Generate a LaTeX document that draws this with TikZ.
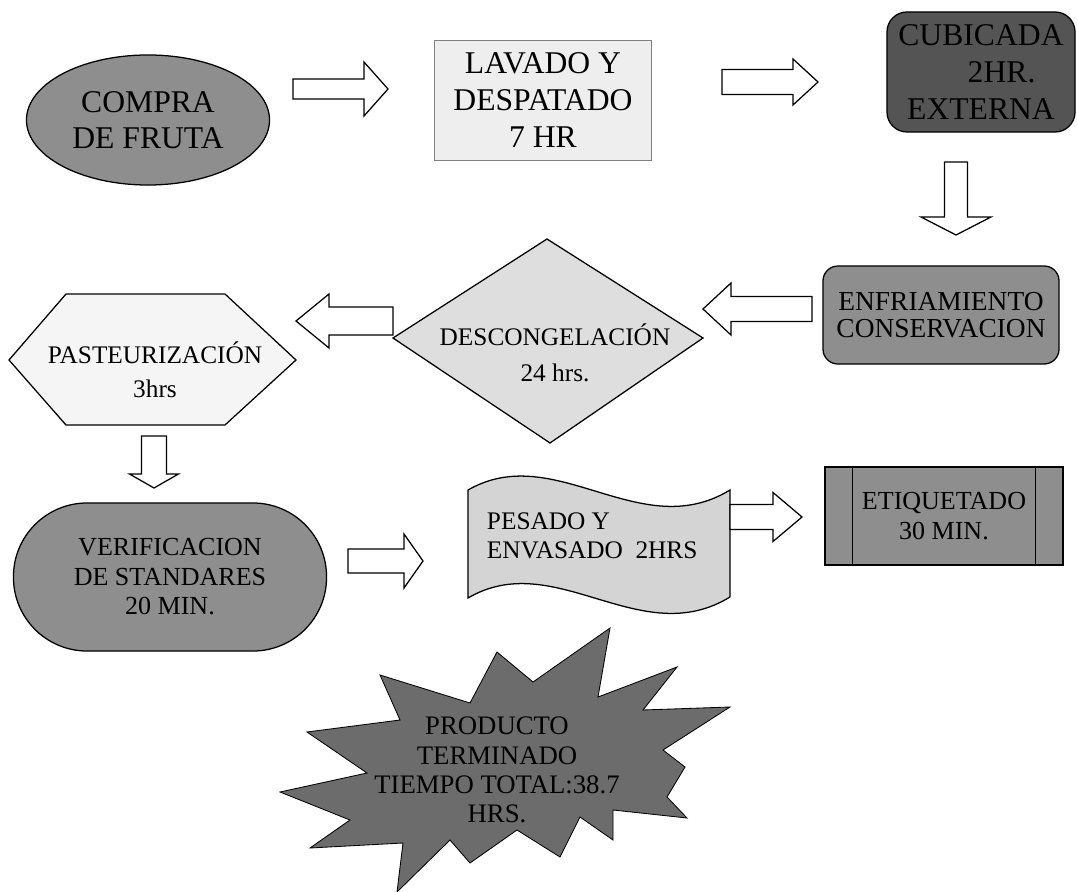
\documentclass[tikz,border=0pt]{standalone}
\usepackage{fontspec}
\setmainfont{Liberation Serif}
\usetikzlibrary{shapes.geometric,calc}

\definecolor{grisoscuro}{RGB}{84,84,84}
\definecolor{grismedio}{RGB}{142,142,142}
\definecolor{grisclaro}{RGB}{222,222,222}
\definecolor{grispapel}{RGB}{238,238,238}
\definecolor{grisola}{RGB}{212,212,212}
\definecolor{grisestrella}{RGB}{108,108,108}

\tikzset{
  letra/.style={font=\fontsize{22.5}{26}\selectfont, align=center},
  letrachica/.style={font=\fontsize{18.5}{21}\selectfont, align=center},
  borde/.style={draw=black, line width=0.9pt},
  flechabloque/.style={draw=black, line width=0.9pt, fill=white, line join=miter},
}

% flecha hueca: inicio, punta, medio ancho, medio ancho de punta, largo de punta (en px)
\newcommand{\flecha}[5]{%
  \coordinate (fb) at ($(#2)!#5*0.025cm!(#1)$);
  \draw[flechabloque] ($(#1)!#3*0.025cm!90:(#2)$) -- ($(fb)!#3*0.025cm!-90:(#1)$)
    -- ($(fb)!#4*0.025cm!-90:(#1)$) -- (#2) -- ($(fb)!#4*0.025cm!90:(#1)$)
    -- ($(fb)!#3*0.025cm!90:(#1)$) -- ($(#1)!#3*0.025cm!-90:(#2)$) -- cycle;
}

\begin{document}
\begin{tikzpicture}[x=0.025cm, y=-0.025cm]
	\useasboundingbox (0,0) rectangle (1077,892);

	% fila de arriba
	\node[ellipse, borde, fill=grismedio, minimum width=6.075cm, minimum height=3.25cm, inner sep=0pt, letra] (compra) at (148,120) {COMPRA\\DE FRUTA};
	\node[rectangle, draw=gray, line width=0.6pt, fill=grispapel, minimum width=5.425cm, minimum height=3cm, letra] (lavado) at (543,100) {LAVADO Y\\DESPATADO\\7 HR};
	\node[rectangle, rounded corners=0.5cm, borde, fill=grisoscuro, minimum width=4.7cm, minimum height=3cm, inner sep=2pt, letra] (cubicada) at (981,72) {CUBICADA\\\hspace*{1.3em}2HR.\\EXTERNA};

	% fila del medio
	\node[rectangle, rounded corners=0.375cm, borde, fill=grismedio, minimum width=5.9cm, minimum height=2.45cm, font=\fontsize{19.5}{19.5}\selectfont, align=center] (enfriamiento) at (941,315) {ENFRIAMIENTO\\CONSERVACION};

	\draw[borde, fill=grisclaro] (393,338) -- (547,239) -- (703,338) -- (550,443) -- cycle;
	\node[font=\fontsize{18}{26}\selectfont, align=center] (descongelacion) at (555,353) {DESCONGELACIÓN\\24 hrs.};

	\draw[borde, fill=white!96!black] (9,360) -- (66,294) -- (225,294) -- (296,360) -- (225,425) -- (66,425) -- cycle;
	\node[font=\fontsize{18}{24}\selectfont, align=center] (pasteurizacion) at (155,370) {PASTEURIZACIÓN\\3hrs};

	% fila de abajo
	\node[rectangle, rounded corners=1.84cm, borde, fill=grismedio, minimum width=7.825cm, minimum height=3.7cm, letrachica] (verificacion) at (170,577) {VERIFICACION\\DE STANDARES\\20 MIN.};

	\draw[borde, fill=grisola] (468,490) .. controls (555,440) and (640,545) .. (730,490) -- (730,597)
		.. controls (640,652) and (555,547) .. (468,598) -- cycle;
	\node[anchor=west, font=\fontsize{18}{21}\selectfont, align=left] (pesado) at (482,536) {PESADO Y\\ENVASADO\ \ 2HRS};

	\node[rectangle, borde, fill=grismedio, minimum width=5.95cm, minimum height=2.45cm, letrachica] (etiquetado) at (944,516) {ETIQUETADO\\30 MIN.};
	\draw[borde] ([xshift=0.7cm]etiquetado.north west) -- ([xshift=0.7cm]etiquetado.south west);
	\draw[borde] ([xshift=-0.7cm]etiquetado.north east) -- ([xshift=-0.7cm]etiquetado.south east);

	% estrella final
	\draw[draw=black, line width=0.6pt, fill=grisestrella] (380,675) -- (470,703) -- (497,652) -- (533,682) -- (610,628)
		-- (598,697) -- (677,667) -- (643,710) -- (730,707) -- (663,750) -- (685,767) -- (667,797)
		-- (687,818) -- (613,810) -- (613,840) -- (580,817) -- (560,857) -- (517,830) -- (470,863)
		-- (450,840) -- (397,892) -- (403,843) -- (310,848) -- (350,820) -- (280,792) -- (367,773)
		-- (307,732) -- (400,720) -- cycle;
	\node[font=\fontsize{19}{20.8}\selectfont, align=center] (producto) at (497,770) {PRODUCTO\\TERMINADO\\TIEMPO TOTAL:38.7\\HRS.};

	% flechas
	\coordinate (f1i) at (293,89);  \coordinate (f1f) at (388,89);
	\coordinate (f2i) at (722,82);  \coordinate (f2f) at (818,82);
	\coordinate (f3i) at (956,162); \coordinate (f3f) at (956,235);
	\coordinate (f4i) at (812,309); \coordinate (f4f) at (703,309);
	\coordinate (f5i) at (393,321); \coordinate (f5f) at (296,321);
	\coordinate (f6i) at (154,436); \coordinate (f6f) at (154,488);
	\coordinate (f7i) at (348,561); \coordinate (f7f) at (423,561);
	\coordinate (f8i) at (730,517); \coordinate (f8f) at (802,517);

	\flecha{f1i}{f1f}{10}{27}{24}
	\flecha{f2i}{f2f}{12.5}{23}{25}
	\flecha{f3i}{f3f}{11.5}{35}{18}
	\flecha{f4i}{f4f}{12.5}{26}{28}
	\flecha{f5i}{f5f}{14}{27}{33}
	\flecha{f6i}{f6f}{12.5}{24.5}{14}
	\flecha{f7i}{f7f}{12}{27}{19}
	\flecha{f8i}{f8f}{12.5}{24.5}{29}

\end{tikzpicture}
\end{document}
